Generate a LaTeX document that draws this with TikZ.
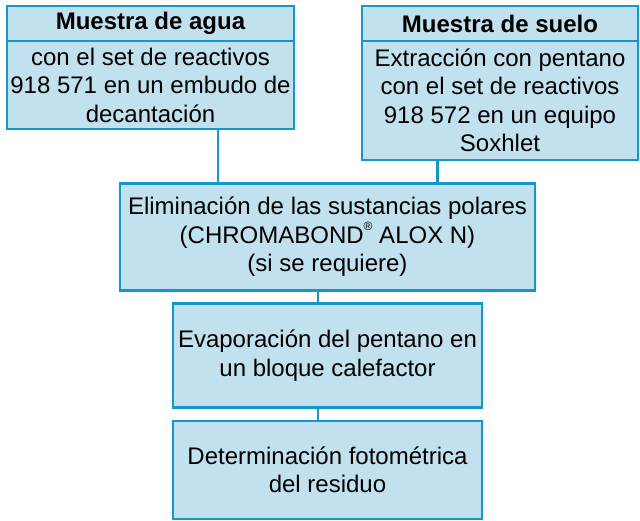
\documentclass[tikz,border=0pt]{standalone}
\usepackage{fontspec}
\setmainfont{Liberation Sans}
\definecolor{bordc}{RGB}{20,152,200}
\definecolor{fillc}{RGB}{194,225,238}
\begin{document}
\begin{tikzpicture}[x=1pt,y=-1pt,
  box/.style={draw=bordc,fill=fillc,line width=2.8pt,rectangle,inner sep=0pt,outer sep=0pt,align=center,
    font=\fontsize{24}{28.5}\selectfont},
  conn/.style={draw=bordc,line width=2.8pt}]
\useasboundingbox (0,0) rectangle (640,521);
% water
\node[box,minimum width=287pt,minimum height=35pt,font=\fontsize{24}{28.5}\selectfont\bfseries] (Ah) at (150.5,23.5) {Muestra de agua};
\node[box,minimum width=287pt,minimum height=88pt] (Ab) at (150.5,85) {con el set de reactivos\\918 571 en un embudo de\\decantación};
% soil
\node[box,minimum width=276pt,minimum height=35pt,font=\fontsize{24}{28.5}\selectfont\bfseries] (Bh) at (500,23.5) {Muestra de suelo};
\node[box,minimum width=276pt,minimum height=119pt] (Bb) at (500,100.5) {Extracción con pentano\\con el set de reactivos\\918 572 en un equipo\\Soxhlet};
% polar removal
\node[box,minimum width=415pt,minimum height=107pt] (C) at (327.5,237) {Eliminación de las sustancias polares\\(CHROMABOND\raisebox{0.55em}{\fontsize{12}{12}\selectfont ®} ALOX N)\\(si se requiere)};
% evaporation
\node[box,minimum width=309pt,minimum height=104pt] (D) at (327.5,355.5) {Evaporación del pentano en\\un bloque calefactor};
% determination
\node[box,minimum width=309pt,minimum height=98pt] (E) at (327.5,470) {Determinación fotométrica\\del residuo};
\coordinate (xa) at (218,0);
\coordinate (xb) at (437.5,0);
\coordinate (xc) at (318,0);
\draw[conn] (xa |- Ab.south) -- (xa |- C.north);
\draw[conn] (xb |- Bb.south) -- (xb |- C.north);
\draw[conn] (xc |- C.south) -- (xc |- D.north);
\draw[conn] (xc |- D.south) -- (xc |- E.north);
\end{tikzpicture}
\end{document}
